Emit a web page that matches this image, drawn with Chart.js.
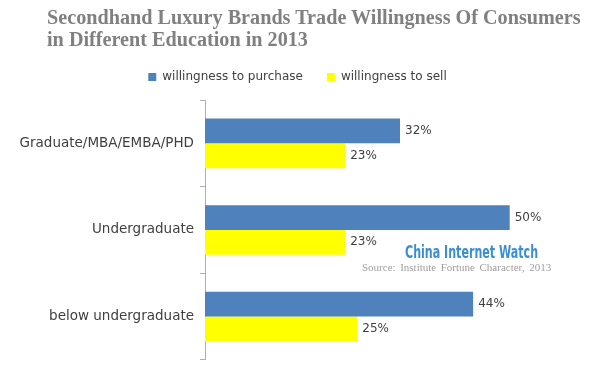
<!DOCTYPE html>
<html>
<head>
<meta charset="utf-8">
<script src="https://cdn.jsdelivr.net/npm/chart.js@4/dist/chart.umd.min.js"></script>
<style>
  html, body { margin: 0; padding: 0; background: #fff; }
  #wrap { position: relative; width: 600px; height: 374px; }
  #title {
    position: absolute; left: 47px; top: 6px;
    font-family: "Liberation Serif", serif; font-weight: bold;
    font-size: 20.2px; line-height: 22px; color: #808080;
  }
  #ciw {
    position: absolute; left: 405px; top: 241px;
    font-family: "Liberation Sans Narrow", "DejaVu Sans Condensed", sans-serif;
    font-weight: bold; font-size: 18px; color: #3b8fd0;
    transform: scaleX(0.685); transform-origin: left top; white-space: nowrap;
  }
  #source {
    position: absolute; left: 362px; top: 261px;
    font-family: "Liberation Serif", serif; font-size: 11px;
    color: #a0a0a0; word-spacing: 1.8px; white-space: nowrap;
  }
</style>
</head>
<body>
<div id="wrap">
  <canvas id="chart" width="600" height="374"></canvas>
  <div id="title">Secondhand Luxury Brands Trade Willingness Of Consumers<br>in Different Education in 2013</div>
  <div id="ciw">China Internet Watch</div>
  <div id="source">Source: Institute Fortune Character, 2013</div>
</div>
<script>
// categories and values
const categories = ['Graduate/MBA/EMBA/PHD', 'Undergraduate', 'below undergraduate'];
const purchase = [32, 50, 44];
const sell = [23, 23, 25];

// draws the "32%" labels after each bar
const valueLabels = {
  id: 'valueLabels',
  afterDatasetsDraw(chart) {
    const ctx = chart.ctx;
    ctx.save();
    ctx.font = '12px "DejaVu Sans"';
    ctx.fillStyle = '#404040';
    ctx.textBaseline = 'middle';
    chart.data.datasets.forEach((ds, i) => {
      chart.getDatasetMeta(i).data.forEach((bar, j) => {
        ctx.fillText(ds.data[j] + '%', bar.x + 5, bar.y);
      });
    });
    ctx.restore();
  }
};

new Chart(document.getElementById('chart').getContext('2d'), {
  type: 'bar',
  data: {
    labels: categories,
    datasets: [
      { label: 'willingness to purchase', data: purchase, backgroundColor: '#4f81bd' },
      { label: 'willingness to sell', data: sell, backgroundColor: '#ffff00' }
    ]
  },
  options: {
    indexAxis: 'y',
    responsive: false,
    animation: false,
    categoryPercentage: 0.573,
    barPercentage: 1,
    layout: { padding: { top: 47, right: 5, bottom: 11.5, left: 0 } },
    plugins: {
      legend: {
        position: 'top',
        labels: {
          boxWidth: 8, boxHeight: 8, padding: 24,
          color: '#404040',
          font: { family: 'DejaVu Sans', size: 12 }
        }
      },
      tooltip: { enabled: false }
    },
    scales: {
      x: {
        position: 'top',
        min: 0, max: 64,
        ticks: { display: false },
        grid: { display: false },
        border: { display: false },
        afterFit(scale) { scale.height = 7; }
      },
      y: {
        grid: { drawOnChartArea: false, tickLength: 5, color: '#b0b0b0' },
        border: { color: '#b0b0b0' },
        ticks: { color: '#404040', padding: 6, font: { family: 'DejaVu Sans', size: 13.5 } },
        afterFit(scale) { scale.width = 205; }
      }
    }
  },
  plugins: [valueLabels]
});
</script>
</body>
</html>
